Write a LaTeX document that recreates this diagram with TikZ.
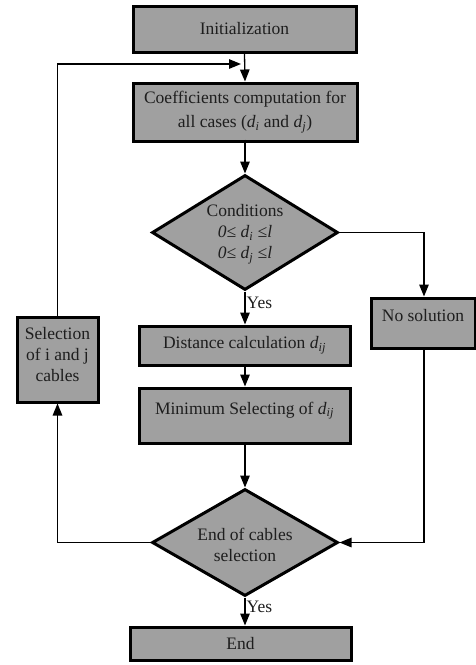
\documentclass[tikz,border=0pt]{standalone}
\usepackage{fontspec}
\setmainfont{Liberation Serif}
\usetikzlibrary{shapes.geometric,arrows.meta}
\definecolor{boxgray}{RGB}{160,160,160}
\definecolor{txt}{RGB}{30,30,30}
\newcommand{\vd}[1]{\textit{d}\textsubscript{\textit{#1}}}
\tikzset{
  proc/.style={draw=black,fill=boxgray,line width=3pt,rectangle,inner sep=0pt,align=center,text=txt},
  dec/.style={draw=black,fill=boxgray,line width=3pt,diamond,inner sep=0pt},
  lbl/.style={align=center,text=txt,inner sep=0pt},
  conn/.style={line width=1.3pt,-{Triangle[length=12pt,width=9.5pt]}},
  plain/.style={line width=1.3pt},
}
\begin{document}
\begin{tikzpicture}[x=1pt,y=-1pt,font=\fontsize{17.5}{21}\selectfont]
\useasboundingbox (0,0) rectangle (476,665);
\node[proc,minimum width=223pt,minimum height=46pt] (init) at (244.5,29) {Initialization};
\node[proc,minimum width=224pt,minimum height=58pt,font=\fontsize{17.5}{24}\selectfont] (coeff) at (245,112) {Coefficients computation for\\all cases (\vd{i} and \vd{j})};
\node[dec,minimum width=186pt,minimum height=115pt] (cond) at (245,232.5) {};
\node[lbl] (condt) at (245,234) {Conditions\\\textit{0≤ }\vd{i}\textit{ ≤l}\\\textit{0≤ }\vd{j}\textit{ ≤l}};
\node[proc,minimum width=104pt,minimum height=50pt] (nosol) at (423,323) {No solution\\[-6pt]};
\node[proc,minimum width=211pt,minimum height=39pt] (dist) at (244.5,345.5) {Distance calculation \vd{ij}};
\node[proc,minimum width=211pt,minimum height=55pt] (minsel) at (244.5,415.5) {Minimum Selecting of \vd{ij}\\[-6pt]};
\node[proc,minimum width=81pt,minimum height=85pt] (sel) at (57.5,359.5) {Selection\\of i and j\\cables\\[-10pt]};
\node[dec,minimum width=186pt,minimum height=107pt] (endc) at (245,542.5) {};
\node[lbl] (endct) at (245,545) {End of cables\\selection};
\node[proc,minimum width=221pt,minimum height=33pt] (endb) at (240.5,643.5) {End};
\coordinate (loopend) at (241,64);
\coordinate (rcorner) at (424,232.5);
\coordinate (rcorner2) at (424,542.5);
\coordinate (lcorner) at (57.5,542.5);
\coordinate (lcorner2) at (57.5,64);
% connectors
\draw[conn] (init.south) -- (coeff.north);
\draw[conn] (sel.north) -- (lcorner2) -- (loopend);
\draw[conn] ([yshift=3pt]coeff.south) -- (cond.north);
\draw[conn] (cond.east) -- (rcorner) -- (nosol.north -| rcorner);
\draw[conn] (cond.south) -- (cond.south |- dist.north) node[pos=0.35,right=1pt,lbl] (yes1) {Yes};
\draw[conn] (dist.south -| cond.south) -- (minsel.north -| cond.south);
\draw[conn] (minsel.south -| endc.north) -- (endc.north);
\draw[conn] (nosol.south -| rcorner) -- (rcorner2) -- (endc.east);
\draw[conn] (endc.west) -- (lcorner) -- (sel.south);
\draw[conn] (endc.south) -- (endc.south |- endb.north) node[pos=0.35,right=1pt,lbl] (yes2) {Yes};
\end{tikzpicture}
\end{document}
